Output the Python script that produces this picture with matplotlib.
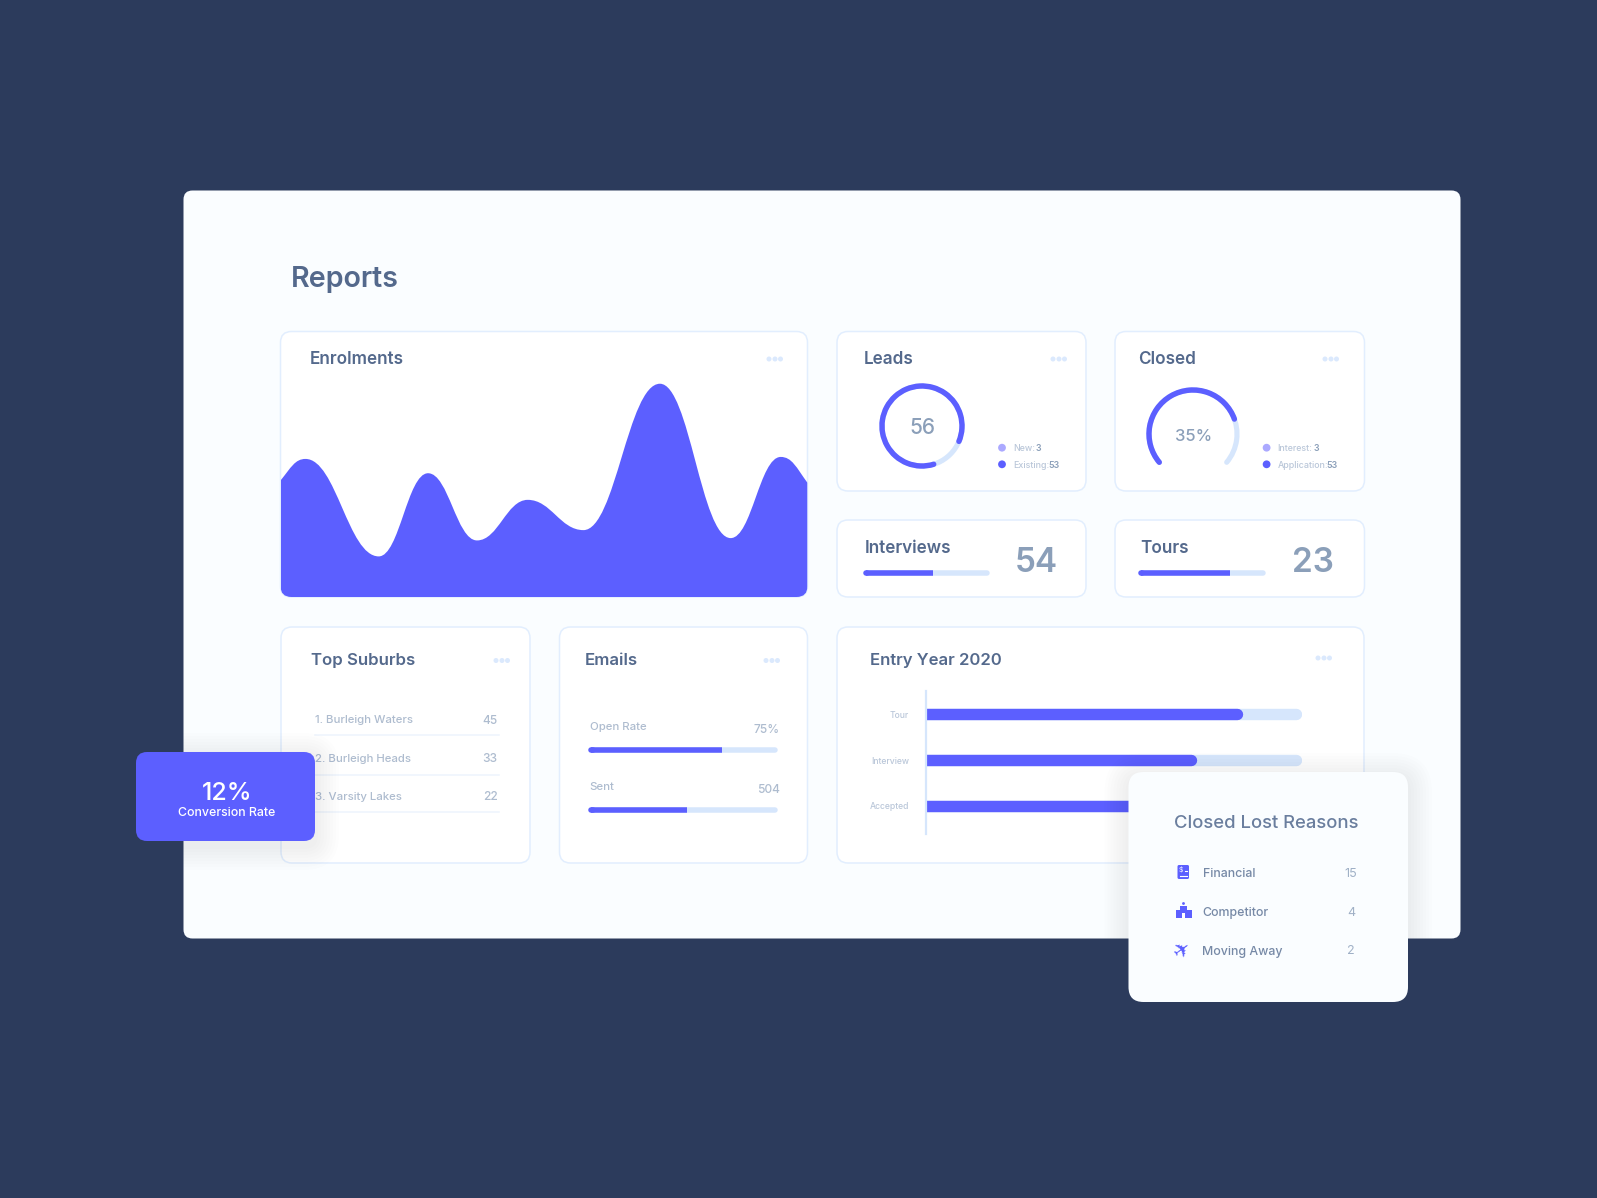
import matplotlib

matplotlib.use("Agg")

import matplotlib.pyplot as plt
from matplotlib.patches import FancyBboxPatch, Circle, Arc, PathPatch, Rectangle
from matplotlib.path import Path

plt.rcParams["font.family"] = ["Inter", "DejaVu Sans"]

W, H = 1597, 1198

NAVY = "#2c3b5c"
PANEL = "#fafdff"
BORDER = "#e2eefe"
BLUE = "#5c5fff"
LILAC = "#aba9ff"
TRACK = "#d6e6fc"
TITLE = "#54698c"
MUTED = "#8b9fb9"
SOFT = "#aebccf"
DOTS = "#dbe9fd"

# enrolment curve: start, every peak and trough, end
enrol_x = [0, 70, 275, 413, 550, 692, 848, 1062, 1260, 1400, 1475]
enrol_y = [350, 415, 122, 372, 170, 292, 201, 641, 177, 421, 343]

leads_share = [86, 14]
closed_share = [77, 23]
leads_legend = [("New:", "3"), ("Existing:", "53")]
closed_legend = [("Interest:", "3"), ("Application:", "53")]

interviews_value, interviews_pct = "54", 55
tours_value, tours_pct = "23", 73

suburb_names = ["1. Burleigh Waters", "2. Burleigh Heads", "3. Varsity Lakes"]
suburb_counts = [45, 33, 22]

email_labels = ["Open Rate", "Sent"]
email_values = ["75%", "504"]
email_pct = [71, 52]

entry_labels = ["Tour", "Interview", "Accepted"]
entry_pct = [84, 71.5, 60]

lost_labels = ["Financial", "Competitor", "Moving Away"]
lost_counts = [15, 4, 2]


def rounded(ax, x0, y0, x1, y1, r, fc, ec="none", lw=0, alpha=1, zorder=1):
    box = FancyBboxPatch((x0 + r, y0 + r), x1 - x0 - 2 * r, y1 - y0 - 2 * r,
                         boxstyle=f"round,pad={r},rounding_size={r}",
                         fc=fc, ec=ec, lw=lw, alpha=alpha, zorder=zorder)
    ax.add_patch(box)
    return box


def sub_axes(x0, y0, x1, y1, zorder=1):
    ax = fig.add_axes([x0 / W, 1 - y1 / H, (x1 - x0) / W, (y1 - y0) / H], zorder=zorder)
    ax.axis("off")
    return ax


def smooth_area(xs, ys, k=0.42):
    # flat handles at each peak and trough, closed along the baseline
    verts, codes = [(xs[0], 0), (xs[0], ys[0])], [Path.MOVETO, Path.LINETO]
    for i in range(len(xs) - 1):
        step = xs[i + 1] - xs[i]
        start = ys[i] + (ys[i + 1] - ys[i]) * 0.6 if i == 0 else ys[i]
        end = ys[i + 1] + (ys[i] - ys[i + 1]) * 0.6 if i == len(xs) - 2 else ys[i + 1]
        verts += [(xs[i] + step * k, start), (xs[i + 1] - step * k, end), (xs[i + 1], ys[i + 1])]
        codes += [Path.CURVE4] * 3
    verts += [(xs[-1], 0), (xs[0], 0)]
    codes += [Path.LINETO, Path.CLOSEPOLY]
    return Path(verts, codes)


def progress(x0, x1, y, pct, height=5.5):
    cap = height / 2
    span = 100 / (x1 - x0 - 2 * cap)
    ax = sub_axes(x0, y - 5, x1, y + 5)
    ax.set_xlim(-cap * span, 100 + cap * span)
    ax.set_ylim(-5, 5)
    lw = height * 0.72
    ax.plot([0, 100], [0, 0], color=TRACK, lw=lw, solid_capstyle="round")
    ax.plot([0, 1], [0, 0], color=BLUE, lw=lw, solid_capstyle="round")
    ax.plot([0, pct], [0, 0], color=BLUE, lw=lw, solid_capstyle="butt")


def shadow(ax, x0, y0, x1, y1, r, dy=5):
    for grow in range(24, 0, -3):
        rounded(ax, x0 - grow, y0 - grow + dy, x1 + grow, y1 + grow + dy, r + grow,
                fc=NAVY, alpha=0.008, zorder=1)


def three_dots(x, y):
    for dx in (0, 6, 11.5):
        bg.add_patch(Circle((x + dx, y), 2.5, fc=DOTS, ec="none", zorder=3))


fig = plt.figure(figsize=(W / 100, H / 100), dpi=100, facecolor=NAVY)

bg = fig.add_axes([0, 0, 1, 1], zorder=0)
bg.set_xlim(0, W)
bg.set_ylim(H, 0)
bg.axis("off")

rounded(bg, 183.5, 190.5, 1460.5, 938.5, 9, PANEL)
bg.text(291, 276.5, "Reports", fontsize=20.6, fontweight="semibold", color=TITLE, va="center_baseline")

card_style = dict(r=11, fc="white", ec=BORDER, lw=1.1, zorder=2)
enrol_card = rounded(bg, 280.5, 331.5, 807.5, 597, **card_style)
rounded(bg, 837, 331.5, 1086, 491, **card_style)
rounded(bg, 1115, 331.5, 1364.5, 491, **card_style)
rounded(bg, 837, 520, 1086, 597, **card_style)
rounded(bg, 1115, 520, 1364.5, 597, **card_style)
rounded(bg, 281, 627, 530, 863, **card_style)
rounded(bg, 559.5, 627, 807.5, 863, **card_style)
rounded(bg, 837, 627, 1364, 863, **card_style)

heading = dict(fontweight="semibold", color=TITLE, va="center_baseline", zorder=4)
bg.text(310, 358, "Enrolments", fontsize=12.3, **heading)
bg.text(864, 358, "Leads", fontsize=12.3, **heading)
bg.text(1138, 358, "Closed", fontsize=12.3, **heading)
bg.text(864.5, 546.5, "Interviews", fontsize=12.3, **heading)
bg.text(1140, 546.5, "Tours", fontsize=12.3, **heading)
bg.text(311, 659, "Top Suburbs", fontsize=12.1, **heading)
bg.text(584.5, 659, "Emails", fontsize=12.1, **heading)
bg.text(870, 658.5, "Entry Year 2020", fontsize=12, **heading)

three_dots(769, 359)
three_dots(1053, 359)
three_dots(1325, 359)
three_dots(496, 660.5)
three_dots(766, 660.5)
three_dots(1318, 658)

# enrolments area
ax = sub_axes(280.5, 331.5, 807.5, 597)
ax.set_xlim(0, 1475)
ax.set_ylim(0, 798)
area = PathPatch(smooth_area(enrol_x, enrol_y), fc=BLUE, ec="none", zorder=2)
ax.add_patch(area)
area.set_clip_path(enrol_card)

# leads donut
ax = sub_axes(872, 376, 972, 476)
ax.set_xlim(-50, 50)
ax.set_ylim(-50, 50)
sweep = 360 * leads_share[0] / sum(leads_share)
ax.add_patch(Arc((0, 0), 80, 80, lw=3.7, color=TRACK))
ax.add_patch(Arc((0, 0), 80, 80, theta1=-73 - sweep, theta2=-73, lw=3.9, color=BLUE, capstyle="round"))
ax.text(0, -0.5, "56", fontsize=15, fontweight="medium", color=MUTED, ha="center", va="center_baseline")

# closed gauge
ax = sub_axes(1143, 384, 1243, 484)
ax.set_xlim(-50, 50)
ax.set_ylim(-50, 50)
sweep = 260 * closed_share[0] / sum(closed_share)
ax.add_patch(Arc((0, 0), 88, 88, theta1=-40, theta2=220, lw=3.7, color=TRACK, capstyle="round"))
ax.add_patch(Arc((0, 0), 88, 88, theta1=220 - sweep, theta2=220, lw=3.9, color=BLUE, capstyle="round"))
ax.text(1, -1, "35%", fontsize=12, fontweight="medium", color=MUTED, ha="center", va="center_baseline")

# small legends
for rows, dot_x, text_x, right_x in [(leads_legend, 1002, 1013, [1041, 1059.7]),
                                     (closed_legend, 1266.6, 1277.7, [1319, 1338])]:
    for (label, value), y, colour, rx in zip(rows, [447.7, 464.3], [LILAC, BLUE], right_x):
        bg.add_patch(Circle((dot_x, y), 3.9, fc=colour, ec="none", zorder=3))
        bg.text(text_x, y, label, fontsize=6.4, fontweight="medium", color="#bac7d9", va="center_baseline", zorder=4)
        bg.text(rx, y, value, fontsize=6.3, fontweight="semibold", color=MUTED, ha="right",
                va="center_baseline", zorder=4)

# interviews / tours
big = dict(fontsize=24, fontweight="semibold", color=MUTED, ha="center", va="center_baseline", zorder=4)
bg.text(1036, 559.5, interviews_value, **big)
bg.text(1313, 559.5, tours_value, **big)
progress(863, 990, 573, interviews_pct)
progress(1138, 1266, 573, tours_pct)

# top suburbs
for name, count, y, line_y in zip(suburb_names, suburb_counts, [719, 758, 796], [735.3, 774.7, 812.3]):
    bg.text(315, y, name, fontsize=8.2, fontweight="medium", color=SOFT, va="center_baseline", zorder=4)
    bg.text(497.5, y, str(count), fontsize=8.6, fontweight="medium", color=SOFT, ha="right",
            va="center_baseline", zorder=4)
    bg.plot([315, 499], [line_y, line_y], color="#eef4fd", lw=1.1, zorder=3)

# emails
for label, value, pct, y, bar_y in zip(email_labels, email_values, email_pct, [726, 786], [750, 810.3]):
    bg.text(589.5, y, label, fontsize=8.2, fontweight="medium", color=SOFT, va="center_baseline", zorder=4)
    bg.text(779.5, y + 2.3, value, fontsize=8.6, fontweight="medium", color=SOFT, ha="right",
            va="center_baseline", zorder=4)
    progress(588, 778, bar_y, pct)

# entry year bars
ax = sub_axes(925.5, 690.7, 1302, 834)
ax.axis("on")
ax.patch.set_alpha(0)
ax.set_xlim(0, 100 * 376.5 / 370.8)
ax.set_ylim(2.62, -0.52)
for name, spine in ax.spines.items():
    spine.set_visible(name == "left")
ax.spines["left"].set_color(TRACK)
ax.spines["left"].set_linewidth(1.6)
ax.set_xticks([])
ax.set_yticks(range(len(entry_labels)))
ax.set_yticklabels(entry_labels, fontsize=6.2, fontweight="medium", color="#bac7d9")
ax.tick_params(axis="y", length=0, pad=12)
for i, pct in enumerate(entry_pct):
    ax.plot([0, 100], [i, i], color=TRACK, lw=8.2, solid_capstyle="round")
    ax.plot([0, pct], [i, i], color=BLUE, lw=8.2, solid_capstyle="round")

# floating cards sit above everything else
top = fig.add_axes([0, 0, 1, 1], zorder=5)
top.set_xlim(0, W)
top.set_ylim(H, 0)
top.axis("off")

shadow(top, 136, 752, 315, 841, 11)
rounded(top, 136, 752, 315, 841, 11, BLUE, zorder=2)
top.text(227, 791, "12%", fontsize=18, fontweight="medium", color="white", ha="center", va="center_baseline", zorder=3)
top.text(227, 812, "Conversion Rate", fontsize=8.9, fontweight="medium", color="white", ha="center",
         va="center_baseline", zorder=3)

shadow(top, 1128.5, 772, 1408, 1002, 15)
rounded(top, 1128.5, 772, 1408, 1002, 15, PANEL, zorder=2)
top.text(1174, 822, "Closed Lost Reasons", fontsize=13.3, fontweight="medium", color="#6a7e9e",
         va="center_baseline", zorder=3)
for label, count, y in zip(lost_labels, lost_counts, [872.3, 911.7, 950]):
    top.text(1202.5, y, label, fontsize=8.9, fontweight="medium", color="#7689a6", va="center_baseline", zorder=3)
    top.text(1351, y, str(count), fontsize=9, color="#9fb0c6", ha="center", va="center_baseline", zorder=3)

# financial icon: a page with a dollar sign
rounded(top, 1177.5, 865, 1189, 879, 1.5, BLUE, zorder=3)
top.text(1181, 869, "$", fontsize=5, color="white", ha="center", va="center", zorder=4)
top.plot([1180, 1187], [876, 876], color="white", lw=0.8, zorder=4)
top.plot([1184.5, 1187], [871, 871], color="white", lw=0.8, zorder=4)

# competitor icon: a small school building
top.add_patch(Rectangle((1175.5, 910), 16, 7.5, fc=BLUE, ec="none", zorder=3))
top.add_patch(Rectangle((1180, 906), 7, 5, fc=BLUE, ec="none", zorder=3))
top.add_patch(Circle((1183.5, 903.5), 1.4, fc=BLUE, ec="none", zorder=3))
top.add_patch(Rectangle((1182.3, 913), 2.4, 4.5, fc="white", ec="none", zorder=4))

# moving away icon: a plane
top.text(1183, 950, "\u2708", fontsize=15, color=BLUE, ha="center", va="center", rotation=35,
         family="DejaVu Sans", zorder=3)

fig.savefig("out.png", dpi=100, facecolor=NAVY)
